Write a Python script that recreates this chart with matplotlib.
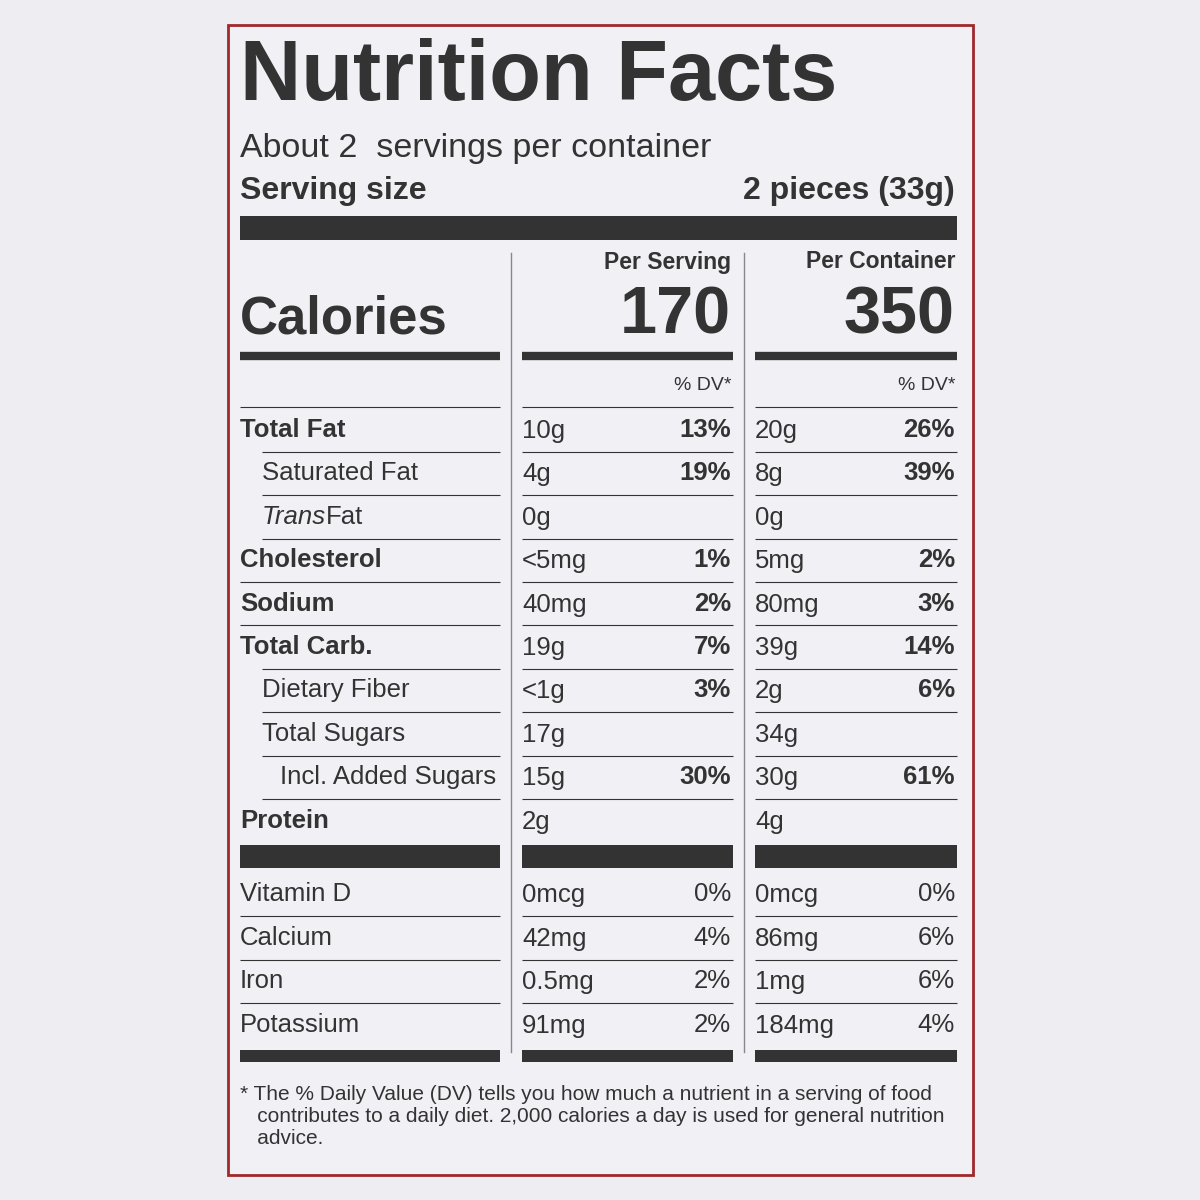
import matplotlib
matplotlib.use("Agg")
import matplotlib.pyplot as plt

title = "Nutrition Facts"
servings_text = "About 2  servings per container"
serving_size_label = "Serving size"
serving_size = "2 pieces (33g)"
col_heads = ["Per Serving", "Per Container"]
calories = ["170", "350"]
nutrients = ["Total Fat", "Saturated Fat", "Trans Fat", "Cholesterol", "Sodium",
             "Total Carb.", "Dietary Fiber", "Total Sugars", "Incl. Added Sugars", "Protein"]
indent = [0, 1, 1, 0, 0, 0, 1, 1, 2, 0]
bold = [1, 0, 0, 1, 1, 1, 0, 0, 0, 1]
serv_amt = ["10g", "4g", "0g", "<5mg", "40mg", "19g", "<1g", "17g", "15g", "2g"]
serv_dv = ["13%", "19%", "", "1%", "2%", "7%", "3%", "", "30%", ""]
cont_amt = ["20g", "8g", "0g", "5mg", "80mg", "39g", "2g", "34g", "30g", "4g"]
cont_dv = ["26%", "39%", "", "2%", "3%", "14%", "6%", "", "61%", ""]
vitamins = ["Vitamin D", "Calcium", "Iron", "Potassium"]
vit_serv_amt = ["0mcg", "42mg", "0.5mg", "91mg"]
vit_serv_dv = ["0%", "4%", "2%", "2%"]
vit_cont_amt = ["0mcg", "86mg", "1mg", "184mg"]
vit_cont_dv = ["0%", "6%", "6%", "4%"]
footnote = ("* The % Daily Value (DV) tells you how much a nutrient in a serving of food\n"
            "   contributes to a daily diet. 2,000 calories a day is used for general nutrition\n"
            "   advice.")

plt.rcParams['font.family'] = ['Liberation Sans', 'DejaVu Sans']
C = "#333333"
fig = plt.figure(figsize=(12, 12), dpi=100)
fig.patch.set_facecolor("#eeedf2")
ax = fig.add_axes([0, 0, 1, 1])
ax.set_xlim(0, 1200); ax.set_ylim(1200, 0); ax.axis("off")

ax.add_patch(plt.Rectangle((228, 25), 745, 1150, facecolor="#f1f0f5", edgecolor="#a0282d", lw=2))

def T(x, y, s, size, w="normal", ha="left", style="normal"):
    ax.text(x, y, s, fontsize=size, fontweight=w, ha=ha, va="center", color=C, fontstyle=style)

def H(y, x0, x1, lw):
    ax.plot([x0, x1], [y, y], color=C, lw=lw, solid_capstyle="butt")

T(240, 78, title, 61, "bold")
T(240, 149, servings_text, 24.5)
T(240, 191, serving_size_label, 23, "bold")
T(955, 191, serving_size, 23, "bold", ha="right")
ax.add_patch(plt.Rectangle((240, 216), 717, 24, color=C, lw=0))

cols = [(511, 522, 731), (744, 755, 955)]
for x in (511, 744):
    ax.plot([x, x], [253, 1052], color="#888888", lw=1)
T(240, 320, "Calories", 38, "bold")
for (vx, xl, xr), h, c in zip(cols, col_heads, calories):
    T(xr, 262, h, 16.5, "bold", ha="right")
    T(xr, 316, c, 48, "bold", ha="right")
    T(xr, 385, "% DV*", 14, ha="right")
    H(356, xl, xr + 2, 6)
    H(407, xl, xr + 2, 0.8)
H(356, 240, 500, 6); H(407, 240, 500, 0.8)

S = 18.5
y0, dy = 430, 43.4
for i, n in enumerate(nutrients):
    y = y0 + i * dy
    x = 240 + [0, 22, 40][indent[i]]
    if n == "Trans Fat":
        ax.text(x, y, "Trans", fontsize=S, fontstyle="italic", va="center", color=C)
        T(x + 64, y, "Fat", S)
    else:
        T(x, y, n, S, "bold" if bold[i] else "normal")
    for (vx, xl, xr), a, d in zip(cols, [serv_amt[i], cont_amt[i]], [serv_dv[i], cont_dv[i]]):
        T(xl, y + 1, a, S)
        T(xr, y, d, S, "bold", ha="right")
    if i < len(nutrients) - 1:
        ly = y + dy / 2
        lx = 262 if (indent[i + 1] >= 1 or indent[i]) else 240
        H(ly, lx, 500, 0.8)
        for (vx, xl, xr) in cols:
            H(ly, xl, xr + 2, 0.8)
for x0, x1 in [(240, 500), (522, 733), (755, 957)]:
    ax.add_patch(plt.Rectangle((x0, 845), x1 - x0, 23, color=C, lw=0))
    ax.add_patch(plt.Rectangle((x0, 1050), x1 - x0, 12, color=C, lw=0))

for i, v in enumerate(vitamins):
    y = 894 + i * 43.7
    T(240, y, v, S)
    for (vx, xl, xr), a, d in zip(cols, [vit_serv_amt[i], vit_cont_amt[i]], [vit_serv_dv[i], vit_cont_dv[i]]):
        T(xl, y + 1, a, S)
        T(xr, y, d, S, ha="right")
    if i < 3:
        ly = y + 22
        H(ly, 240, 500, 0.8)
        for (vx, xl, xr) in cols:
            H(ly, xl, xr + 2, 0.8)

ax.text(240, 1116, footnote, fontsize=15, va="center", ha="left", color=C, linespacing=1.2)
fig.savefig("out.png", dpi=100, facecolor=fig.get_facecolor())
